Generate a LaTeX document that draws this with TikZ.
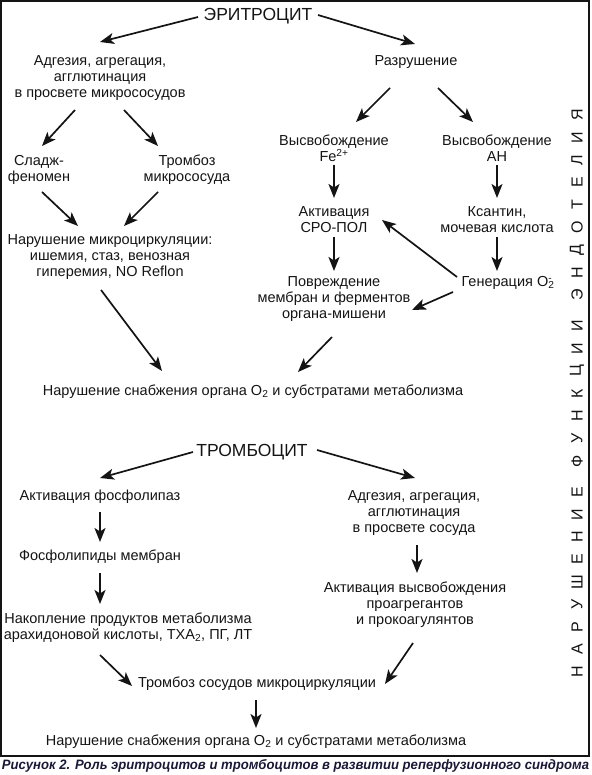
\documentclass[tikz,border=0pt]{standalone}
\usepackage{fontspec}
\setmainfont{Liberation Sans}
\usetikzlibrary{arrows.meta}
\definecolor{ink}{RGB}{20,20,20}
\definecolor{capcol}{RGB}{25,25,55}
\begin{document}
\begin{tikzpicture}[x=1pt,y=-1pt,
  txt/.style={font=\fontsize{14.5}{16}\selectfont, align=center, inner sep=0pt, text=ink},
  head/.style={font=\fontsize{17.5}{20}\selectfont, inner sep=0pt, text=ink},
  arr/.style={draw=ink, line width=1.7pt, -{Stealth[length=14pt,width=11pt,inset=3.5pt]}},
  vlet/.style={font=\fontsize{16}{16}\selectfont, rotate=90, inner sep=0pt, text=ink},
  frame/.style={draw=ink, line width=1.8pt}]
\useasboundingbox (0,0) rectangle (591,775);
\draw[frame] (1,1) rectangle (589,756);

% upper part: erythrocyte
\node[head] (ery) at (258,16) {ЭРИТРОЦИТ};
\node[txt] (adh1) at (100,78) {Адгезия, агрегация,\\агглютинация\\в просвете микрососудов};
\node[txt] (razr) at (416,62) {Разрушение};
\node[txt] (sludge) at (39,170) {Сладж-\\феномен};
\node[txt] (tromb1) at (187,170) {Тромбоз\\микрососуда};
\node[txt] (micro) at (110,257) {Нарушение микроциркуляции:\\ишемия, стаз, венозная\\гиперемия, NO Reflon};
\node[txt] (fe) at (334,148) {Высвобождение\\Fe\textsuperscript{2+}};
\node[txt] (an) at (497,148) {Высвобождение\\АН};
\node[txt] (sro) at (334,220) {Активация\\СРО-ПОЛ};
\node[txt] (ksant) at (497,220) {Ксантин,\\мочевая кислота};
\node[txt] (povr) at (334,299) {Повреждение\\мембран и ферментов\\органа-мишени};
\node[txt] (gen) at (508,283) {Генерация O\rlap{\textsuperscript{-}}\textsubscript{2}};
\node[txt] (supply1) at (253,392) {Нарушение снабжения органа O\textsubscript{2} и субстратами метаболизма};

% lower part: thrombocyte
\node[head] (trombo) at (252,452) {ТРОМБОЦИТ};
\node[txt] (fosf) at (100,497) {Активация фосфолипаз};
\node[txt] (fosfl) at (100,557) {Фосфолипиды мембран};
\node[txt] (nakop) at (128,628) {Накопление продуктов метаболизма\\арахидоновой кислоты, ТХА\textsubscript{2}, ПГ, ЛТ};
\node[txt] (adh2) at (414,513) {Адгезия, агрегация,\\агглютинация\\в просвете сосуда};
\node[txt] (aktiv) at (415,605) {Активация высвобождения\\проагрегантов\\и прокоагулянтов};
\node[txt] (trombmc) at (257,684) {Тромбоз сосудов микроциркуляции};
\node[txt] (supply2) at (256,742) {Нарушение снабжения органа O\textsubscript{2} и субстратами метаболизма};

% connectors
\draw[arr] ([shift={(-60,1)}]ery.center) -- ([shift={(0,-36)}]adh1.center);
\draw[arr] ([shift={(60,-1)}]ery.center) -- ([shift={(-1,-18)}]razr.center);
\draw[arr] ([shift={(-25,32)}]adh1.center) -- ([shift={(3,-24)}]sludge.center);
\draw[arr] ([shift={(24,32)}]adh1.center) -- ([shift={(-29,-24)}]tromb1.center);
\draw[arr] ([shift={(3,22)}]sludge.center) -- ([shift={(-32,-31)}]micro.center);
\draw[arr] ([shift={(-29,22)}]tromb1.center) -- ([shift={(14,-31)}]micro.center);
\draw[arr] ([shift={(-9,33)}]micro.center) -- ([shift={(-91,-21)}]supply1.center);
\draw[arr] ([shift={(-26,26)}]razr.center) -- ([shift={(22,-26)}]fe.center);
\draw[arr] ([shift={(22,26)}]razr.center) -- ([shift={(-24,-26)}]an.center);
\draw[arr] ([shift={(0,17)}]fe.center) -- ([shift={(0,-22)}]sro.center);
\draw[arr] ([shift={(0,17)}]an.center) -- ([shift={(0,-22)}]ksant.center);
\draw[arr] ([shift={(0,17)}]sro.center) -- ([shift={(0,-28)}]povr.center);
\draw[arr] ([shift={(0,17)}]ksant.center) -- ([shift={(-11,-12)}]gen.center);
\draw[arr] ([shift={(-51,-6)}]gen.center) -- ([shift={(48,0)}]sro.center);
\draw[arr] ([shift={(-55,9)}]gen.center) -- ([shift={(78,11)}]povr.center);
\draw[arr] ([shift={(-2,38)}]povr.center) -- ([shift={(45,-20)}]supply1.center);
\draw[arr] ([shift={(-59,0)}]trombo.center) -- ([shift={(0,-19)}]fosf.center);
\draw[arr] ([shift={(65,-2)}]trombo.center) -- ([shift={(1,-35)}]adh2.center);
\draw[arr] ([shift={(0,15)}]fosf.center) -- ([shift={(0,-15)}]fosfl.center);
\draw[arr] ([shift={(0,16)}]fosfl.center) -- ([shift={(-28,-24)}]nakop.center);
\draw[arr] ([shift={(3,32)}]adh2.center) -- ([shift={(2,-32)}]aktiv.center);
\draw[arr] ([shift={(-28,27)}]nakop.center) -- ([shift={(-125,2)}]trombmc.center);
\draw[arr] ([shift={(-2,38)}]aktiv.center) -- ([shift={(128,0)}]trombmc.center);
\draw[arr] ([shift={(-1,16)}]trombmc.center) -- ([shift={(0,-14)}]supply2.center);

% vertical label
\foreach \ch/\yy [count=\k] in {Н/672,А/649.5,Р/627,У/604.5,Ш/582,Е/559.5,Н/537,И/514.5,Е/492,
  Ф/461,У/438.5,Н/416,К/393.5,Ц/371,И/348.5,И/326,
  Э/295,Н/272.5,Д/250,О/227.5,Т/205,Е/182.5,Л/160,И/137.5,Я/115}
  \node[vlet] (v\k) at (577,\yy) {\ch};

% caption
\node[inner sep=0pt, text=capcol] (caption) at (295.5,766)
  {\resizebox{587pt}{10pt}{\fontsize{13.5}{15}\selectfont\bfseries\itshape Рисунок 2. Роль эритроцитов и тромбоцитов в развитии реперфузионного синдрома}};
\end{tikzpicture}
\end{document}
